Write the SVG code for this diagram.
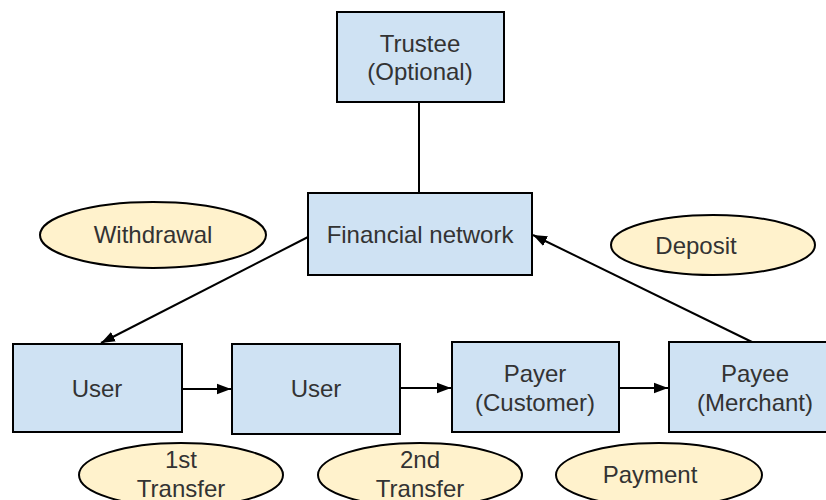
<svg xmlns="http://www.w3.org/2000/svg" width="826" height="500" viewBox="0 0 826 500">
<defs>
<style>
.box{fill:#cfe2f3;stroke:#000;stroke-width:2}
.oval{fill:#fff2cc;stroke:#000;stroke-width:2}
.t{font-family:"Liberation Sans",Arial,sans-serif;font-size:24px;fill:#333;text-anchor:middle}
.c{stroke:#000;stroke-width:2;fill:none}
</style>
<marker id="ah" viewBox="0 0 10 10" refX="10" refY="5" markerWidth="7" markerHeight="7" orient="auto" markerUnits="strokeWidth">
<path d="M0,1.2 L10,5 L0,8.8 z" fill="#000"/>
</marker>
</defs>
<rect width="826" height="500" fill="#fff"/>
<g id="connectors">
<line class="c" x1="419" y1="102" x2="419" y2="193"/>
<line class="c" x1="308" y1="237" x2="101" y2="343" marker-end="url(#ah)"/>
<line class="c" x1="752" y1="342" x2="533" y2="235" marker-end="url(#ah)"/>
<line class="c" x1="182" y1="389" x2="231" y2="389" marker-end="url(#ah)"/>
<line class="c" x1="400" y1="388" x2="451" y2="388" marker-end="url(#ah)"/>
<line class="c" x1="619" y1="388" x2="668" y2="388" marker-end="url(#ah)"/>
</g>
<g id="trustee"><rect class="box" x="337" y="12" width="167" height="90"/><text class="t" x="420" y="52">Trustee</text><text class="t" x="420" y="80">(Optional)</text></g>
<g id="financial"><rect class="box" x="308" y="193" width="224" height="82"/><text class="t" x="420" y="243">Financial network</text></g>
<g id="user1"><rect class="box" x="13" y="344" width="169" height="88"/><text class="t" x="97" y="397">User</text></g>
<g id="user2"><rect class="box" x="232" y="344" width="168" height="90"/><text class="t" x="316" y="397">User</text></g>
<g id="payer"><rect class="box" x="452" y="342" width="167" height="90"/><text class="t" x="535" y="382">Payer</text><text class="t" x="535" y="411">(Customer)</text></g>
<g id="payee"><rect class="box" x="669" y="342" width="176" height="90"/><text class="t" x="755" y="382">Payee</text><text class="t" x="755" y="411">(Merchant)</text></g>
<g id="withdrawal"><ellipse class="oval" cx="153" cy="235" rx="113" ry="33"/><text class="t" x="153" y="243">Withdrawal</text></g>
<g id="deposit"><ellipse class="oval" cx="713" cy="245" rx="102" ry="30"/><text class="t" x="696" y="254">Deposit</text></g>
<g id="transfer1"><ellipse class="oval" cx="181" cy="475" rx="102" ry="32"/><text class="t" x="181" y="468">1st</text><text class="t" x="181" y="497">Transfer</text></g>
<g id="transfer2"><ellipse class="oval" cx="420" cy="475" rx="102" ry="32"/><text class="t" x="420" y="468">2nd</text><text class="t" x="420" y="497">Transfer</text></g>
<g id="payment"><ellipse class="oval" cx="659" cy="475" rx="103" ry="32"/><text class="t" x="650" y="483">Payment</text></g>
</svg>
